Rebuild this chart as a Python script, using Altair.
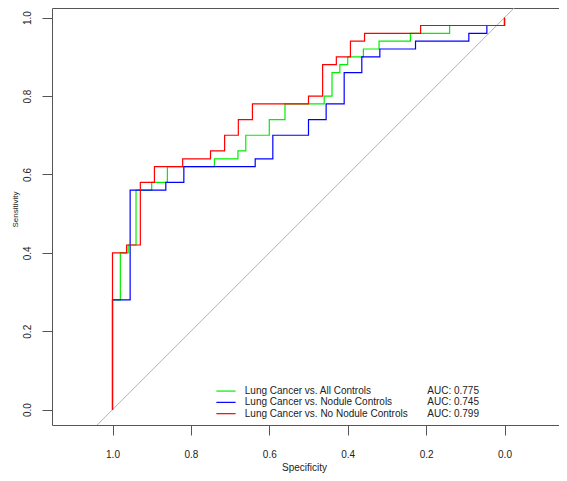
import altair as alt
import pandas as pd

# ---------------- data ----------------
SERIES = ["Lung Cancer vs. All Controls",
          "Lung Cancer vs. Nodule Controls",
          "Lung Cancer vs. No Nodule Controls"]
AUC_TEXT = ["AUC: 0.775", "AUC: 0.745", "AUC: 0.799"]
COLORS = ["#00ee00", "#0000ff", "#ff0000"]

# ROC corner points (specificity, sensitivity)
ALL_SPEC = [1, 1, .98, .98, .96, .96, .94, .94, .90, .90, .86, .86, .74, .74, .68, .68,
            .66, .66, .60, .60, .56, .56, .46, .46, .44, .44, .42, .42, .40, .40, .36, .36,
            .32, .32, .24, .24, .14, .14, 0, 0]
ALL_SENS = [0, .28, .28, .40, .40, .42, .42, .56, .56, .58, .58, .62, .62, .64, .64, .66,
            .66, .70, .70, .74, .74, .78, .78, .80, .80, .86, .86, .88, .88, .90, .90, .92,
            .92, .94, .94, .96, .96, .98, .98, 1.0]

NOD_SPEC = [1, 1, .955, .955, .864, .864, .818, .818, .636, .636, .591, .591, .500, .500,
            .455, .455, .409, .409, .364, .364, .318, .318, .227, .227, .091, .091,
            .045, .045, 0, 0]
NOD_SENS = [0, .28, .28, .56, .56, .58, .58, .62, .62, .64, .64, .70, .70, .74, .74, .78,
            .78, .86, .86, .90, .90, .92, .92, .94, .94, .96, .96, .98, .98, 1.0]

NONOD_SPEC = [1, 1, .964, .964, .929, .929, .893, .893, .821, .821, .750, .750, .714, .714,
              .679, .679, .643, .643, .500, .500, .464, .464, .429, .429, .393, .393,
              .357, .357, .214, .214, 0, 0]
NONOD_SENS = [0, .40, .40, .42, .42, .58, .58, .62, .62, .64, .64, .66, .66, .70, .70, .74,
              .74, .78, .78, .80, .80, .88, .88, .90, .90, .94, .94, .96, .96, .98, .98, 1.0]

# chance diagonal (sensitivity = 1 - specificity), clipped to the frame
DIAG_SPEC = [1.5, -0.5]
DIAG_SENS = [-0.5, 1.5]

TICKS = [0.0, 0.2, 0.4, 0.6, 0.8, 1.0]

# ---------------- layout constants ----------------
X_DOMAIN = [-0.13903, 1.15434]
Y_DOMAIN = [-0.03914, 1.02464]
LEG_LINE_X1, LEG_LINE_X2 = 0.735, 0.686
LEG_TEXT_X, LEG_AUC_X = 0.6625, 0.197
LEG_TOP, LEG_STEP, LEG_BASE_OFF = 0.0474, 0.0288, 0.0076
FONT = "Liberation Sans"
TXT = "#222222"

# ---------------- tables ----------------
curves = []
for name, sp, se in zip(SERIES, [ALL_SPEC, NOD_SPEC, NONOD_SPEC],
                        [ALL_SENS, NOD_SENS, NONOD_SENS]):
    curves.append(pd.DataFrame({"spec": sp, "sens": se, "series": name,
                                "ord": range(len(sp))}))
diag_df = pd.DataFrame({"spec": DIAG_SPEC, "sens": DIAG_SENS, "ord": [0, 1]})

leg_df = pd.DataFrame({
    "series": SERIES,
    "auc": AUC_TEXT,
    "x1": LEG_LINE_X1, "x2": LEG_LINE_X2,
    "tx": LEG_TEXT_X, "ax": LEG_AUC_X,
    "ly": [LEG_TOP - i * LEG_STEP for i in range(3)],
})
leg_df["ty"] = leg_df["ly"] - LEG_BASE_OFF

color_scale = alt.Scale(domain=SERIES, range=COLORS)

X_AX = alt.Axis(values=TICKS, format=".1f", title="Specificity",
                tickSize=10, labelPadding=22, labelBaseline="alphabetic",
                labelAlign="center", titleX=252, titleY=45.5,
                titleBaseline="alphabetic", titleAlign="center", titleAngle=0)
Y_AX = alt.Axis(values=TICKS, format=".1f", title="Sensitivity",
                tickSize=10, labelPadding=11.3, labelAngle=270,
                labelBaseline="alphabetic", labelAlign="center",
                titleAngle=270, titleX=-35, titleY=201, titleFontSize=8,
                titleBaseline="alphabetic", titleAlign="center")

def xenc(field):
    return alt.X(f"{field}:Q", scale=alt.Scale(domain=X_DOMAIN, reverse=True, nice=False, zero=False), axis=X_AX)

def yenc(field):
    return alt.Y(f"{field}:Q", scale=alt.Scale(domain=Y_DOMAIN, nice=False, zero=False), axis=Y_AX)

layers = [alt.Chart(diag_df).mark_line(clip=True, color="#b4b4b4", strokeWidth=1).encode(
    x=xenc("spec"), y=yenc("sens"), order="ord:Q")]

for df in curves:
    layers.append(alt.Chart(df).mark_line(clip=True, strokeWidth=1.2).encode(
        x=xenc("spec"), y=yenc("sens"), order="ord:Q",
        color=alt.Color("series:N", scale=color_scale, legend=None)))

layers.append(alt.Chart(leg_df).mark_rule(strokeWidth=1.2).encode(
    x=xenc("x1"), x2="x2:Q", y=yenc("ly"),
    color=alt.Color("series:N", scale=color_scale, legend=None)))
layers.append(alt.Chart(leg_df).mark_text(align="left", baseline="alphabetic", fontSize=10,
                                          font=FONT, color=TXT).encode(
    x=xenc("tx"), y=yenc("ty"), text="series:N"))
layers.append(alt.Chart(leg_df).mark_text(align="left", baseline="alphabetic", fontSize=10,
                                          font=FONT, color=TXT).encode(
    x=xenc("ax"), y=yenc("ty"), text="auc:N"))

chart = alt.layer(*layers).properties(
    width=507, height=417,
    autosize=alt.AutoSizeParams(type="none"),
    padding={"left": 44, "top": 0, "right": 0, "bottom": 48},
).configure_view(
    stroke="#555555", strokeWidth=1
).configure_axis(
    domain=False, grid=False, tickColor="#555555", tickWidth=1,
    labelFont=FONT, labelFontSize=10, labelColor=TXT,
    titleFont=FONT, titleFontSize=10, titleFontWeight="normal", titleColor=TXT,
    labelOverlap=False, labelFlush=False
)

chart.save("out.html", embed_options={"renderer": "svg", "actions": False})
